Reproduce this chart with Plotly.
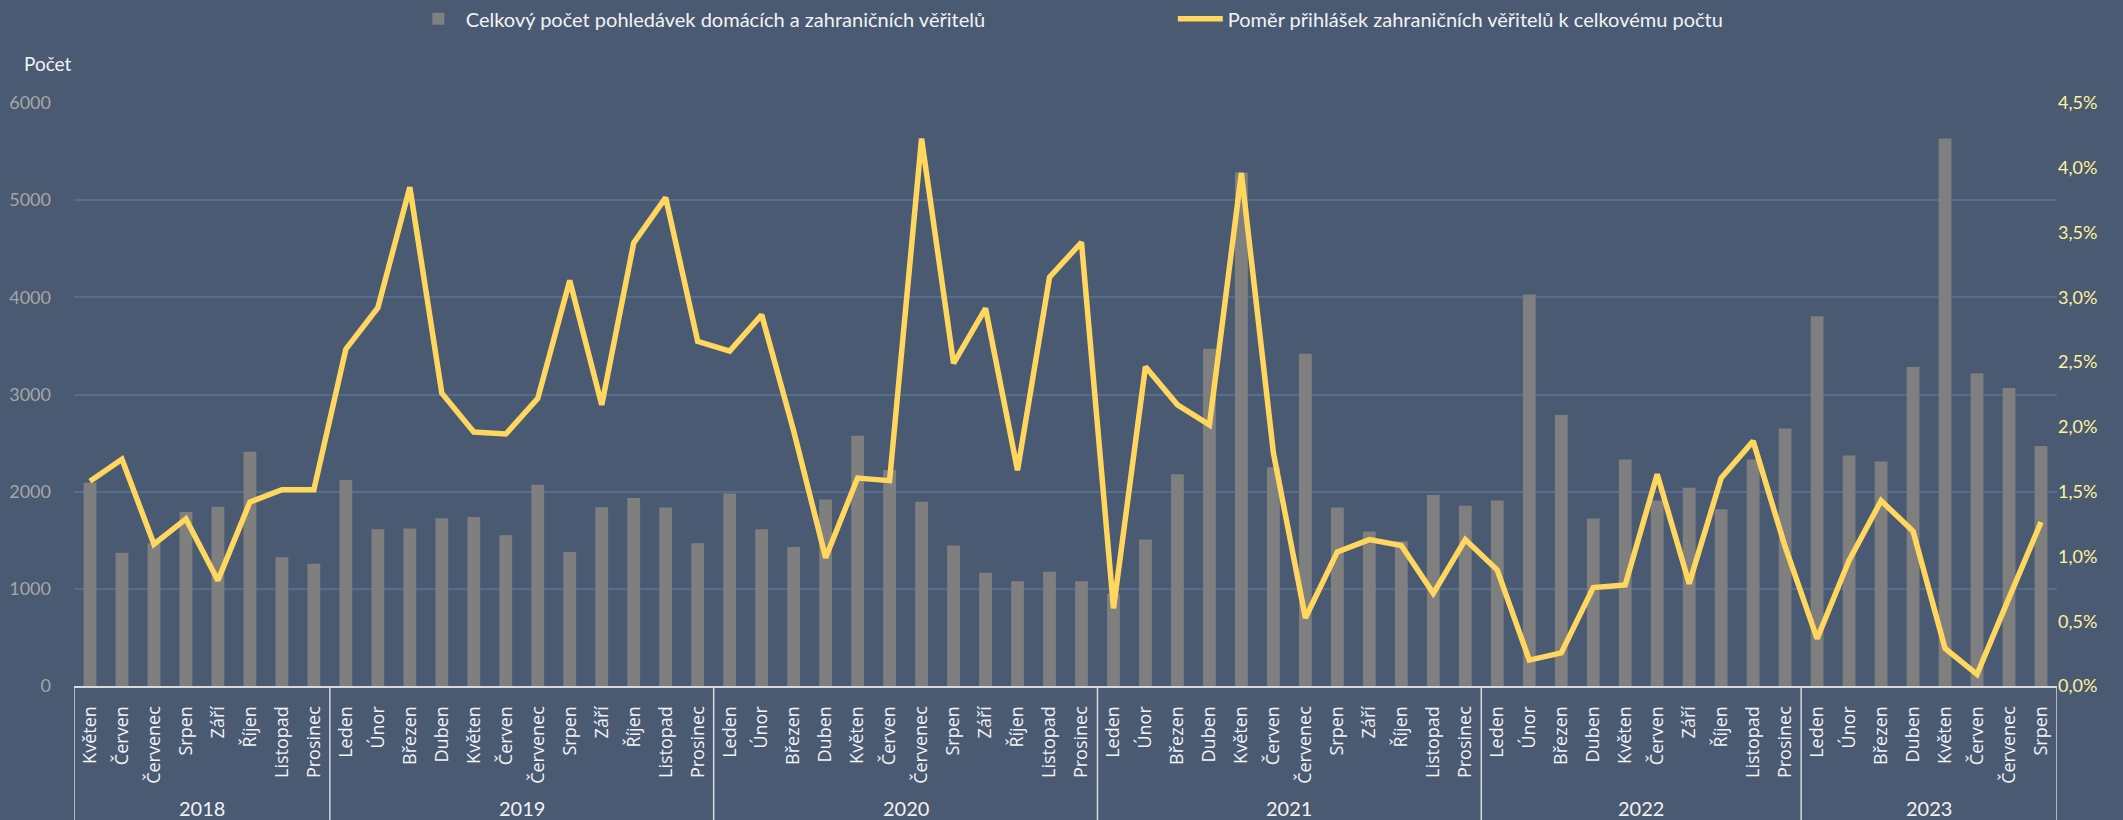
import plotly.graph_objects as go

years = ["2018"] * 8 + ["2019"] * 12 + ["2020"] * 12 + ["2021"] * 12 + ["2022"] * 10 + ["2023"] * 8

m12 = ["Leden", "Únor", "Březen", "Duben", "Květen", "Červen", "Červenec", "Srpen", "Září", "Říjen", "Listopad", "Prosinec"]
months = (
    m12[4:]
    + m12
    + m12
    + m12
    + ["Leden", "Únor", "Březen", "Duben", "Květen", "Červen", "Září", "Říjen", "Listopad", "Prosinec"]
    + m12[:8]
)

counts = [
    2095, 1372, 1470, 1790, 1845, 2412, 1326, 1259,
    2120, 1613, 1620, 1727, 1738, 1551, 2072, 1380, 1840, 1935, 1838, 1470,
    1982, 1612, 1430, 1920, 2576, 2222, 1897, 1447, 1166, 1079, 1176, 1079,
    950, 1508, 2178, 3472, 5284, 2252, 3420, 1838, 1590, 1490, 1966, 1856,
    1910, 4030, 2788, 1723, 2330, 1910, 2040, 1818, 2330, 2650,
    3805, 2372, 2310, 3284, 5634, 3219, 3068, 2469,
]

ratio_pct = [
    1.58, 1.75, 1.095, 1.29, 0.815, 1.42, 1.515, 1.515,
    2.60, 2.92, 3.85, 2.26, 1.96, 1.945, 2.22, 3.13, 2.17, 3.42, 3.77, 2.66,
    2.585, 2.865, 1.97, 0.99, 1.605, 1.585, 4.225, 2.49, 2.915, 1.665, 3.155, 3.425,
    0.60, 2.465, 2.17, 2.015, 3.96, 1.80, 0.525, 1.035, 1.13, 1.085, 0.715, 1.13,
    0.895, 0.20, 0.255, 0.76, 0.78, 1.635, 0.79, 1.605, 1.89, 1.075,
    0.365, 0.97, 1.43, 1.195, 0.29, 0.09, 0.68, 1.265,
]
ratio = [v / 100 for v in ratio_pct]

BG = "#4a5a72"
FONT = "Lato"
LINE_GRAY = "#d9d9d9"

# unique category keys (month + year), displayed as month names
keys = [f"{m} {y}" for m, y in zip(months, years)]

# year groups: start index and length
groups = []
for i, y in enumerate(years):
    if not groups or groups[-1][0] != y:
        groups.append([y, i, 0])
    groups[-1][2] += 1

fig = go.Figure()
fig.add_trace(go.Bar(
    x=keys, y=counts,
    name="Celkový počet pohledávek domácích a zahraničních věřitelů",
    marker=dict(color="#7f7f7f", line=dict(width=0)),
    yaxis="y",
))
fig.add_trace(go.Scatter(
    x=keys, y=ratio,
    name="Poměr přihlášek zahraničních věřitelů k celkovému počtu",
    mode="lines",
    line=dict(color="#ffd75e", width=5.5),
    yaxis="y2",
))

shapes = []
annotations = []
bounds = [g[1] for g in groups] + [len(years)]
for b in bounds:
    shapes.append(dict(
        type="line", xref="x", yref="paper",
        x0=b - 0.5, x1=b - 0.5, y0=0, y1=-0.235,
        line=dict(color=LINE_GRAY, width=1.5),
    ))
for y, start, n in groups:
    annotations.append(dict(
        text=y, xref="x", yref="paper",
        x=start + (n - 1) / 2, y=-0.209,
        xanchor="center", yanchor="middle", showarrow=False,
        font=dict(family=FONT, size=20, color="#f2f2f2"),
    ))
annotations.append(dict(
    text="Počet", xref="paper", yref="paper", x=-0.026, y=1.067,
    xanchor="left", yanchor="middle", showarrow=False,
    font=dict(family=FONT, size=19, color="#f2f2f2"),
))

fig.update_layout(
    width=2123, height=820,
    paper_bgcolor=BG, plot_bgcolor=BG,
    separators=", ",
    margin=dict(l=74, r=66, t=103, b=134, autoexpand=False),
    bargap=0.6,
    font=dict(family=FONT, size=18, color="#f2f2f2"),
    showlegend=True,
    legend=dict(
        orientation="h", xref="container", yref="container",
        x=0.1935, xanchor="left", y=0.977, yanchor="middle",
        font=dict(family=FONT, size=20, color="#f2f2f2"),
        bgcolor="rgba(0,0,0,0)", entrywidth=702, itemwidth=45,
    ),
    xaxis=dict(
        type="category",
        tickvals=keys, ticktext=months,
        range=[-0.5, len(keys) - 0.5],
        showline=True, linecolor=LINE_GRAY, linewidth=2,
        tickangle=-90,
        tickfont=dict(family="Open Sans", size=18, color="#f2f2f2"),
        showgrid=False, automargin=False,
        ticks="", ticklabelstandoff=11,
    ),
    yaxis=dict(
        range=[0, 6000], dtick=1000, tickformat="d",
        showgrid=True, gridcolor="#576d8c", gridwidth=1.5,
        zeroline=False, showline=False,
        tickfont=dict(family=FONT, size=18, color="#a6a6a6"),
        ticks="", automargin=False, ticklabelstandoff=22,
    ),
    yaxis2=dict(
        range=[0, 0.045], dtick=0.005, tickformat=".1%",
        overlaying="y", side="right",
        showgrid=False, zeroline=False, showline=False,
        tickfont=dict(family=FONT, size=18, color="#fff29a"),
        automargin=False,
    ),
    shapes=shapes,
    annotations=annotations,
)

fig.write_html(
    "out.html",
    config={"displayModeBar": False},
    post_script="document.body.style.margin='0';document.body.style.background='" + BG + "';",
)
